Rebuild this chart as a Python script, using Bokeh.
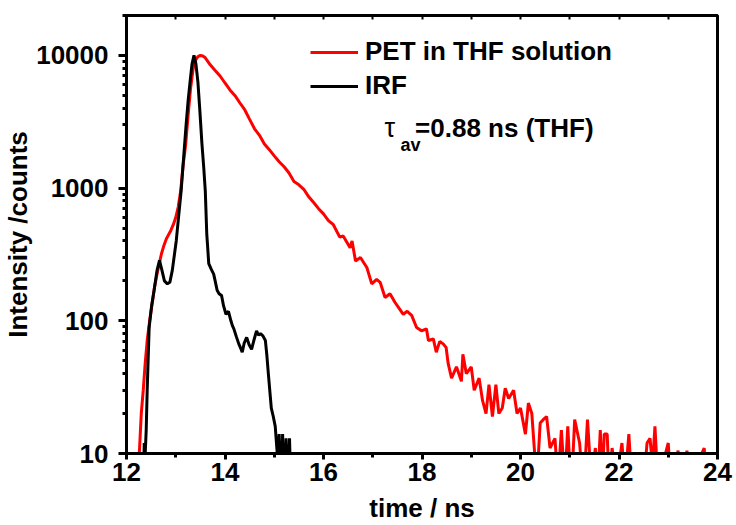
from bokeh.plotting import figure
from bokeh.models import (FixedTicker, PrintfTickFormatter, LinearAxis, Legend,
                          LegendItem, Label, Range1d)
from bokeh.embed import file_html
from bokeh.resources import INLINE

FONT = "Liberation Sans"

# PET in THF solution decay (time in ns, counts)
pet_t = [12.22, 12.26, 12.30, 12.34, 12.38, 12.42, 12.47, 12.52, 12.57, 12.62,
         12.67, 12.71, 12.76, 12.81, 12.86, 12.90, 12.95, 13.00, 13.05, 13.10,
         13.15, 13.20, 13.25, 13.30, 13.35, 13.40, 13.45, 13.50, 13.55, 13.60,
         13.70, 13.80, 13.90, 14.00, 14.10, 14.20, 14.30, 14.40, 14.50, 14.60,
         14.70, 14.80, 14.90, 15.00, 15.10, 15.20, 15.30, 15.40, 15.50, 15.60,
         15.70, 15.80, 15.90, 16.00, 16.10, 16.20, 16.33, 16.40, 16.54, 16.58,
         16.65, 16.75, 16.88, 16.98, 17.08, 17.15, 17.25, 17.35, 17.45, 17.55,
         17.62, 17.70, 17.79, 17.89, 17.99, 18.09, 18.13, 18.23, 18.29, 18.36,
         18.43, 18.49, 18.53, 18.60, 18.70, 18.80, 18.83, 18.90, 19.00, 19.06,
         19.16, 19.23, 19.30, 19.36, 19.43, 19.50, 19.56, 19.63, 19.69, 19.76,
         19.86, 19.93, 20.00, 20.10, 20.16, 20.23, 20.33, 20.40, 20.46, 20.53,
         20.60, 20.70, 20.76, 20.83, 20.90, 20.96, 21.03, 21.10, 21.20, 21.28,
         21.36, 21.44, 21.52, 21.57, 21.62, 21.66, 21.70, 21.76, 21.80, 21.86,
         21.95, 22.06, 22.12, 22.20, 22.26, 22.50, 22.57, 22.63, 22.68, 22.73,
         22.79, 23.00, 23.05, 23.20, 23.25, 23.38, 23.42, 23.73, 23.78]
pet_counts = [3, 10, 20, 30, 48, 71, 100, 134, 180, 225,
              275, 320, 370, 415, 450, 480, 530, 600, 720, 950,
              1500, 2100, 3500, 5600, 7800, 9200, 9800, 10000, 9900, 9600,
              8500, 7700, 7000, 6200, 5500, 5000, 4400, 3900, 3300, 2800,
              2500, 2150, 1950, 1750, 1580, 1450, 1300, 1120, 1060, 980,
              860, 780, 700, 640, 570, 530, 427, 436, 355, 400,
              282, 300, 252, 190, 205, 195, 150, 160, 138, 122,
              112, 118, 110, 89, 84, 87, 71, 73, 58, 70,
              67, 63, 48, 37, 45, 35, 56, 40, 45, 30,
              37, 25, 20, 33, 19, 33, 20, 22, 31, 26,
              30, 20, 22, 14, 24, 20, 6, 17, 18, 19,
              11, 13, 6, 15, 6, 16, 5, 18, 12, 5,
              18, 6, 11, 6, 15, 6, 14, 14, 6, 11,
              6, 12, 6, 14, 6, 6, 12, 13, 8, 16,
              6, 12, 6, 10.5, 6, 10.5, 6, 11, 6]

# Instrument response function
irf_t = [12.34, 12.36, 12.38, 12.40, 12.42, 12.46, 12.51, 12.56, 12.62, 12.67,
         12.72, 12.77, 12.83, 12.88, 12.93, 12.98, 13.01, 13.06, 13.11, 13.16,
         13.21, 13.25, 13.29, 13.33, 13.37, 13.41, 13.45, 13.49, 13.53, 13.57,
         13.60, 13.63, 13.65, 13.67, 13.72, 13.77, 13.80, 13.84, 13.88, 13.93,
         13.97, 14.02, 14.07, 14.12, 14.15, 14.18, 14.23, 14.28, 14.32, 14.35,
         14.39, 14.44, 14.49, 14.54, 14.59, 14.64, 14.68, 14.72, 14.77, 14.82,
         14.85, 14.88, 14.94, 14.98, 15.02, 15.07, 15.10, 15.13, 15.17, 15.20,
         15.24, 15.27, 15.31, 15.34]
irf_counts = [5, 12, 10, 15, 30, 89, 130, 170, 240, 285,
              240, 200, 190, 195, 240, 330, 400, 620, 960, 1700,
              3000, 4500, 6300, 8600, 10000, 8600, 6300, 3800, 2200, 1400,
              950, 450, 350, 270, 245, 225, 200, 170, 160, 155,
              130, 112, 118, 100, 92, 87, 76, 67, 62, 58,
              68, 75, 66, 61, 72, 84, 78, 80, 77, 71,
              55, 40, 22, 19, 16, 9, 14, 5, 14, 5,
              13, 5, 13, 5]

x_major = [12, 14, 16, 18, 20, 22, 24]
x_minor = [13, 15, 17, 19, 21, 23]
y_major = [10, 100, 1000, 10000]
y_minor = [m * 10 ** e for e in range(1, 5) for m in range(2, 10)]

p = figure(width=736, height=525, x_range=Range1d(12, 24),
           y_range=Range1d(10, 20000), y_axis_type="log",
           output_backend="svg", toolbar_location=None,
           min_border_left=122, min_border_right=19,
           min_border_top=15, min_border_bottom=72)

p.xgrid.visible = False
p.ygrid.visible = False
p.outline_line_color = "black"
p.outline_line_width = 3
p.background_fill_color = "white"
p.border_fill_color = "white"

r_pet = p.line(pet_t, pet_counts, line_color="#ff0000", line_width=3)
r_irf = p.line(irf_t, irf_counts, line_color="black", line_width=3)

for ax in (p.xaxis[0], p.yaxis[0]):
    ax.axis_line_width = 3
    ax.axis_line_color = "black"
    ax.major_tick_line_width = 3
    ax.minor_tick_line_width = 3
    ax.major_tick_in = 0
    ax.minor_tick_in = 0
    ax.major_label_text_font = FONT
    ax.major_label_text_font_style = "bold"
    ax.major_label_text_font_size = "26px"
    ax.major_label_text_color = "black"
    ax.axis_label_text_font = FONT
    ax.axis_label_text_font_style = "bold"
    ax.axis_label_text_font_size = "26px"
    ax.axis_label_text_color = "black"

p.xaxis.ticker = FixedTicker(ticks=x_major, minor_ticks=x_minor)
p.xaxis.major_tick_out = 6
p.xaxis.minor_tick_out = 4
p.xaxis.major_label_standoff = 3
p.xaxis.axis_label = "time / ns"
p.xaxis.axis_label_standoff = 9

p.yaxis.ticker = FixedTicker(ticks=y_major, minor_ticks=y_minor)
p.yaxis.formatter = PrintfTickFormatter(format="%d")
p.yaxis.major_tick_out = 8
p.yaxis.minor_tick_out = 4
p.yaxis.major_label_standoff = 10
p.yaxis.axis_label = "Intensity /counts"
p.yaxis.axis_label_standoff = 0

top = LinearAxis(ticker=FixedTicker(ticks=[], minor_ticks=x_major + x_minor),
                 minor_tick_in=4, minor_tick_out=0, minor_tick_line_width=2,
                 major_tick_in=0, major_tick_out=0,
                 axis_line_width=3, major_label_standoff=0)
p.add_layout(top, "above")

legend = Legend(items=[LegendItem(label="PET in THF solution", renderers=[r_pet]),
                       LegendItem(label="IRF", renderers=[r_irf])],
                location=(184, 352), border_line_color=None,
                background_fill_alpha=0, padding=0, margin=0, spacing=3,
                glyph_width=48, glyph_height=30, label_height=30,
                label_standoff=7, label_text_font=FONT,
                label_text_font_style="bold", label_text_font_size="26px",
                label_text_color="black")
p.add_layout(legend)

p.add_layout(Label(x=17.24, y=2830, text="τ", text_font=FONT,
                   text_font_size="27px", text_color="black",
                   text_baseline="alphabetic"))
p.add_layout(Label(x=17.565, y=2100, text="av", text_font=FONT,
                   text_font_size="18px", text_font_style="bold",
                   text_color="black", text_baseline="alphabetic"))
p.add_layout(Label(x=17.86, y=2830, text="=0.88 ns (THF)", text_font=FONT,
                   text_font_size="26px", text_font_style="bold",
                   text_color="black", text_baseline="alphabetic"))

open("out.html", "w").write(file_html(p, INLINE))
